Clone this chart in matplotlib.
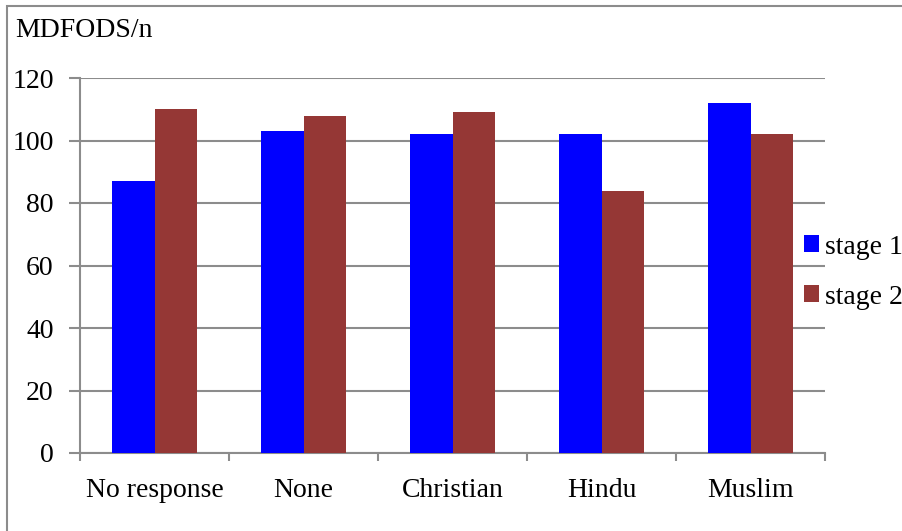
import numpy as np
import matplotlib.pyplot as plt
from matplotlib.patches import Rectangle

categories = ['No response', 'None', 'Christian', 'Hindu', 'Muslim']
stage1 = [87, 103, 102, 102, 112]
stage2 = [110, 108, 109, 84, 102]
yticks = [0, 20, 40, 60, 80, 100, 120]

plt.rcParams['font.family'] = ['Liberation Serif', 'DejaVu Serif']

W, H = 903, 531
fig = plt.figure(figsize=(W / 100, H / 100), dpi=100)
ax = fig.add_axes([80 / W, 1 - 453 / H, (825 - 80) / W, (453 - 78) / H])

# 外框
fig.patches.append(Rectangle((7 / W, -0.1), 1.2, 1 - 6 / H + 0.1, transform=fig.transFigure,
                             fill=False, edgecolor='#8c8c8c', linewidth=1.5))

x = np.arange(len(categories))
w = 0.282
ax.bar(x - w / 2, stage1, w, color='#0000ff', label='stage 1', zorder=3)
ax.bar(x + w / 2, stage2, w, color='#953735', label='stage 2', zorder=3)

ax.set_xlim(-0.5, len(categories) - 0.5)
ax.set_ylim(0, 120)
ax.set_yticks(yticks)
ax.yaxis.grid(True, color='#8c8c8c', linewidth=1.5, zorder=0)
ax.set_axisbelow(True)

fs = 20
ax.set_xticks(x)
ax.set_xticklabels(categories, fontsize=fs)
ax.tick_params(axis='x', length=0, pad=18)
# 类别分隔刻度
ax.set_xticks(np.arange(len(categories) + 1) - 0.5, minor=True)
ax.tick_params(axis='x', which='minor', length=6, width=1.5, color='#8c8c8c')
ax.tick_params(axis='y', length=8, width=1.5, color='#8c8c8c', labelsize=fs, pad=11)

for s in ['top', 'right']:
    ax.spines[s].set_visible(False)
for s in ['left', 'bottom']:
    ax.spines[s].set_color('#8c8c8c')
    ax.spines[s].set_linewidth(1.5)

fig.text(15 / W, 1 - 31 / H, 'MDFODS/n', fontsize=fs, va='center', ha='left')

ax.legend(loc='center left', bbox_to_anchor=(804 / W, 1 - 272 / H), bbox_transform=fig.transFigure,
          frameon=False, fontsize=fs, handlelength=0.55, handleheight=0.55, handletextpad=0.22,
          labelspacing=0.9, borderaxespad=0, borderpad=0)

fig.savefig('out.png', dpi=100)
